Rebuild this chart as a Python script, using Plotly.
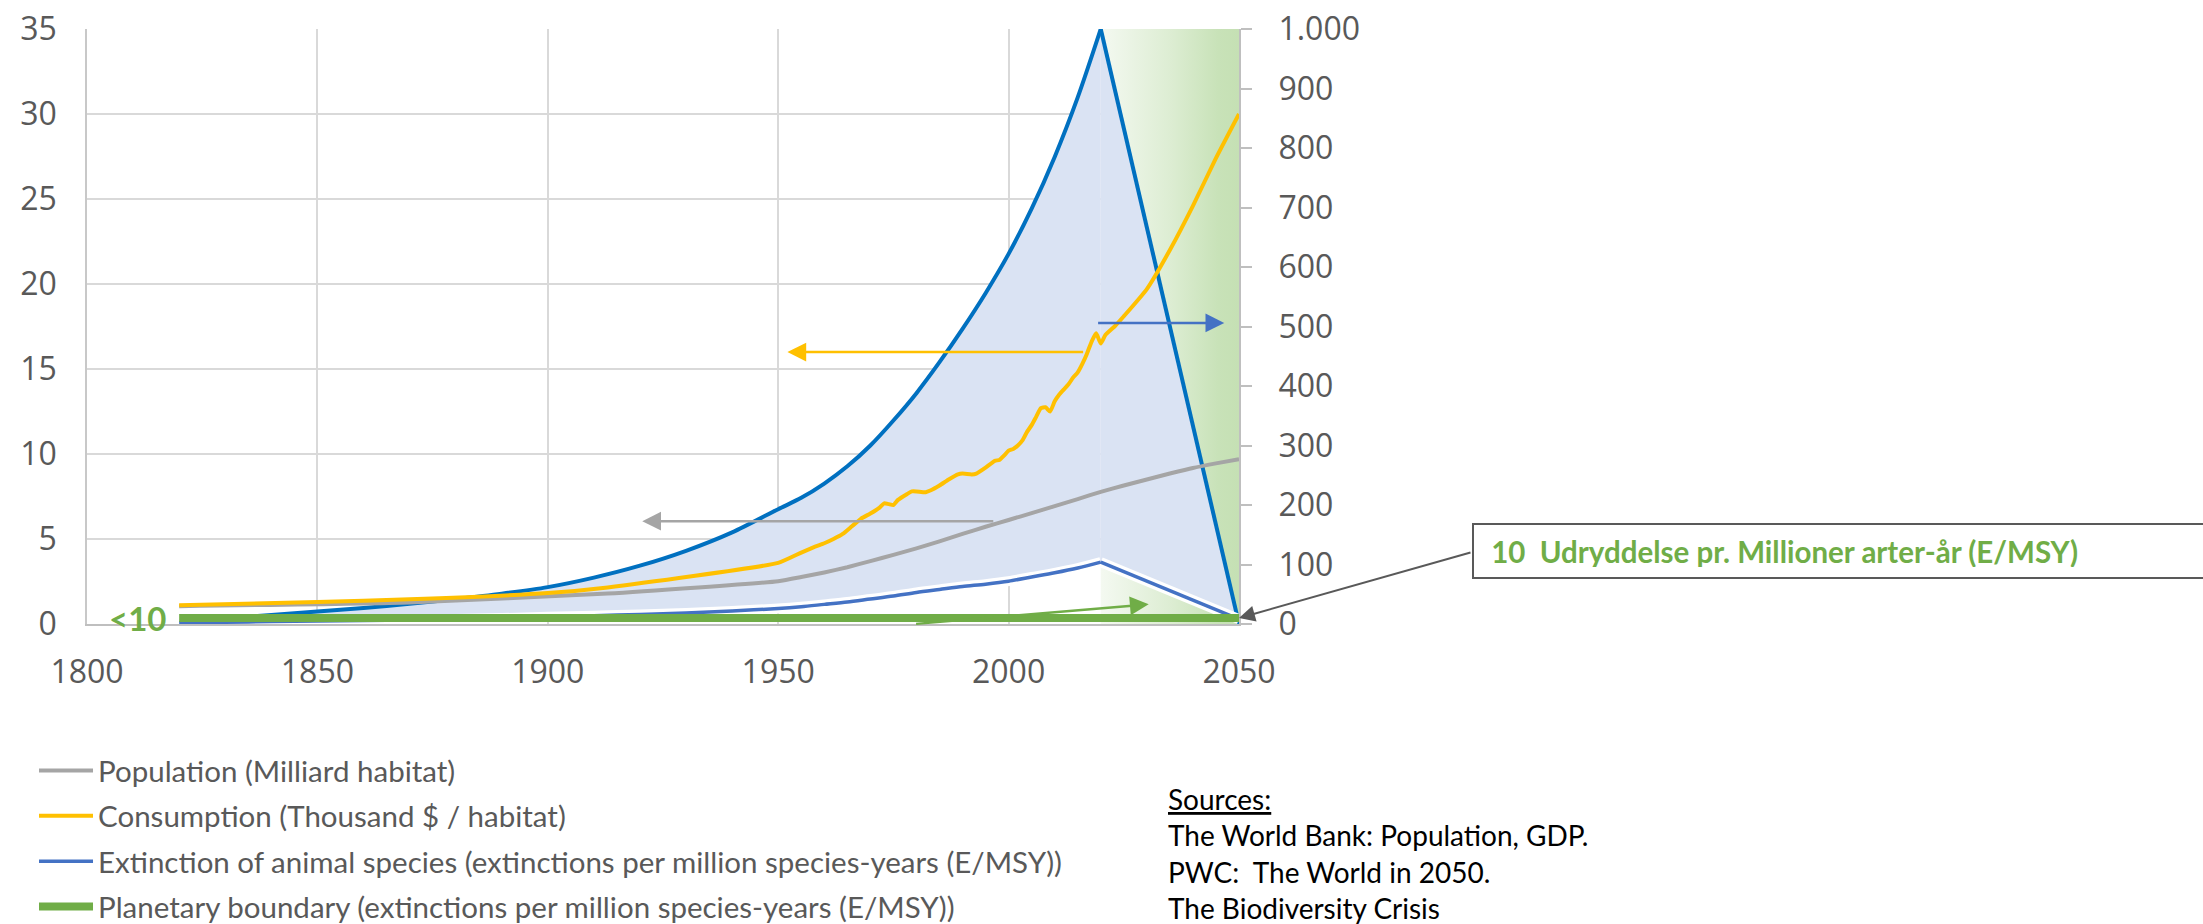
import plotly.graph_objects as go

# ---------------- data ----------------
# Population (billions) and consumption (thousand $ per inhabitant), left axis
pop_years = [1820, 1870, 1913, 1950, 1955, 1960, 1965, 1970, 1975, 1980, 1985, 1990,
             1995, 2000, 2005, 2010, 2015, 2020, 2025, 2030, 2035, 2040, 2045, 2050]
population = [1.05, 1.27, 1.79, 2.52, 2.76, 3.03, 3.34, 3.70, 4.07, 4.45, 4.86, 5.30,
              5.72, 6.12, 6.52, 6.93, 7.35, 7.77, 8.15, 8.50, 8.85, 9.18, 9.45, 9.70]

cons_years = [1820, 1850, 1870, 1900, 1913, 1950, 1955, 1958, 1960, 1962, 1964, 1966,
              1968, 1970, 1972, 1973, 1974, 1975, 1976, 1978, 1979, 1980, 1982, 1983,
              1985, 1987, 1989, 1990, 1992, 1993, 1995, 1997, 1998, 1999, 2000, 2001,
              2002, 2003, 2004, 2005, 2006, 2007, 2008, 2009, 2010, 2011, 2012, 2013,
              2014, 2015, 2016, 2017, 2018, 2019, 2020, 2021, 2023, 2025, 2030, 2035,
              2040, 2045, 2050]
consumption = [1.10, 1.30, 1.45, 1.82, 2.15, 3.60, 4.20, 4.55, 4.75, 5.00, 5.30, 5.75,
               6.20, 6.50, 6.85, 7.10, 7.05, 7.00, 7.30, 7.65, 7.80, 7.80, 7.75, 7.85,
               8.15, 8.50, 8.80, 8.85, 8.80, 8.85, 9.20, 9.60, 9.65, 9.90, 10.20, 10.30,
               10.50, 10.80, 11.30, 11.70, 12.20, 12.70, 12.75, 12.50, 13.10, 13.50, 13.80, 14.10,
               14.50, 14.80, 15.30, 15.90, 16.60, 17.10, 16.50, 17.00, 17.50, 18.10, 19.70, 22.00,
               24.60, 27.40, 30.00]

# Extinction rate (E/MSY), right axis: upper and lower estimate
ext_years = [1820, 1830, 1840, 1850, 1860, 1870, 1880, 1890, 1900, 1910, 1920, 1930,
             1940, 1950, 1955, 1960, 1965, 1970, 1975, 1980, 1985, 1990, 1995, 2000,
             2005, 2010, 2015, 2020, 2050]
ext_upper = [5, 10, 15, 21, 27, 34, 42, 51, 62, 78, 98, 123,
             154, 193, 212, 236, 265, 300, 342, 388, 440, 496, 556, 622,
             698, 785, 885, 1000, 0]
ext_lower = [2, 3, 4, 5, 6, 7, 8.5, 10, 12, 14, 16, 18.5,
             22, 26, 29, 33, 37, 42, 47, 53, 58, 63, 67, 72,
             79, 86, 94, 104, 8]

# Planetary boundary (E/MSY)
boundary_years = [1820, 2050]
boundary_value = 10

# Projection period
projection = [2020, 2050]

# Axes
x_ticks = [1800, 1850, 1900, 1950, 2000, 2050]
left_ticks = [0, 5, 10, 15, 20, 25, 30, 35]
right_ticks = [0, 100, 200, 300, 400, 500, 600, 700, 800, 900, 1000]
right_labels = ["0", "100", "200", "300", "400", "500", "600", "700", "800", "900", "1.000"]
LEFT_MAX = 35
RIGHT_MAX = 1000

legend_names = [
    "Population (Milliard habitat)",
    "Consumption (Thousand $ / habitat)",
    "Extinction of animal species (extinctions per million species-years (E/MSY))",
    "Planetary boundary (extinctions per million species-years (E/MSY))",
]

sources = ["Sources:", "The World Bank: Population, GDP.", "PWC:\u00a0 The World in 2050.",
           "The Biodiversity Crisis"]
boundary_note = "Udryddelse pr. Millioner arter-år (E/MSY)"

# ---------------- styles ----------------
GRAY = "#A5A5A5"
YELLOW = "#FFC000"
BLUE = "#4472C4"
DARK_BLUE = "#0070C0"
GREEN = "#70AD47"
FILL_BLUE = "#DAE3F3"
AXIS_TXT = "#595959"
GRID = "#D9D9D9"

# right-axis values expressed in left-axis units (both axes share the plot height)
k = LEFT_MAX / RIGHT_MAX
upper_left = [v * k for v in ext_upper]
lower_left = [v * k for v in ext_lower]

# historic part is smoothed, the projection part is a straight segment
p = ext_years.index(projection[0])
hist = slice(0, p + 1)
proj = slice(p, len(ext_years))

fig = go.Figure()

# projection band with a horizontal green gradient
fig.add_trace(go.Scatter(
    x=[projection[0], projection[1], projection[1], projection[0], projection[0]],
    y=[0, 0, LEFT_MAX, LEFT_MAX, 0],
    mode="lines", line=dict(width=0), fill="toself",
    fillgradient=dict(type="horizontal",
                      colorscale=[[0, "#F4F9F1"], [0.5, "#DDEDD3"], [0.85, "#C8E2B8"], [1, "#C5E0B4"]]),
    hoverinfo="skip", showlegend=False))

# band between lower and upper extinction estimates
for part, shape in ((hist, "spline"), (proj, "linear")):
    fig.add_trace(go.Scatter(x=ext_years[part], y=lower_left[part], mode="lines",
                             line=dict(width=0, shape=shape, smoothing=0.8),
                             hoverinfo="skip", showlegend=False))
    fig.add_trace(go.Scatter(x=ext_years[part], y=upper_left[part], mode="lines", fill="tonexty",
                             fillcolor=FILL_BLUE, line=dict(width=0, shape=shape, smoothing=0.8),
                             hoverinfo="skip", showlegend=False))

# upper extinction estimate
for part, shape in ((hist, "spline"), (proj, "linear")):
    fig.add_trace(go.Scatter(x=ext_years[part], y=upper_left[part], mode="lines",
                             line=dict(color=DARK_BLUE, width=4, shape=shape, smoothing=0.8),
                             showlegend=False))

# lower extinction line with a thin white edge
for part, shape in ((hist, "spline"), (proj, "linear")):
    fig.add_trace(go.Scatter(x=ext_years[part], y=lower_left[part], mode="lines",
                             line=dict(color="white", width=10, shape=shape, smoothing=0.8),
                             hoverinfo="skip", showlegend=False))
for part, shape, show in ((hist, "spline", True), (proj, "linear", False)):
    fig.add_trace(go.Scatter(x=ext_years[part], y=lower_left[part], mode="lines",
                             name=legend_names[2], showlegend=show,
                             line=dict(color=BLUE, width=3.5, shape=shape, smoothing=0.8),
                             legendrank=3, legendgroup="c"))

fig.add_trace(go.Scatter(x=pop_years, y=population, mode="lines", name=legend_names[0],
                         line=dict(color=GRAY, width=4, shape="spline", smoothing=0.5),
                         legendrank=1, legendgroup="a"))
fig.add_trace(go.Scatter(x=cons_years, y=consumption, mode="lines", name=legend_names[1],
                         line=dict(color=YELLOW, width=4, shape="spline", smoothing=0.5),
                         legendrank=2, legendgroup="b"))

fig.add_trace(go.Scatter(x=boundary_years, y=[boundary_value] * len(boundary_years),
                         mode="lines", name=legend_names[3], yaxis="y2",
                         line=dict(color=GREEN, width=8), legendrank=4, legendgroup="d"))

tick_font = dict(family="Open Sans", size=32, color=AXIS_TXT)

fig.update_layout(
    width=2203, height=924,
    margin=dict(l=87, r=964, t=29, b=300, autoexpand=False),
    paper_bgcolor="white", plot_bgcolor="white",
    xaxis=dict(range=[1800, 2050], tickvals=x_ticks, showgrid=True, gridcolor=GRID, gridwidth=1.5,
               showline=True, linecolor="#BFBFBF", linewidth=2, zeroline=False,
               ticks="", tickfont=tick_font, ticklabelstandoff=19),
    yaxis=dict(range=[0, LEFT_MAX], tickvals=left_ticks, showgrid=True, gridcolor=GRID, gridwidth=1.5,
               showline=True, linecolor="#C8C8C8", linewidth=1.5, zeroline=False,
               ticks="", tickfont=tick_font, ticklabelstandoff=22),
    yaxis2=dict(range=[0, RIGHT_MAX], overlaying="y", side="right", tickvals=right_ticks,
                ticktext=right_labels, showgrid=False, zeroline=False,
                showline=True, linecolor="#BFBFBF", linewidth=2,
                ticks="outside", ticklen=11, tickwidth=2, tickcolor="#BFBFBF",
                tickfont=tick_font, ticklabelstandoff=20),
    legend=dict(x=-0.046, xanchor="left", y=-0.203, yanchor="top", orientation="v",
                font=dict(family="Lato", size=29.5, color=AXIS_TXT), tracegroupgap=4,
                itemwidth=54, bgcolor="rgba(0,0,0,0)"),
    showlegend=True,
)

arrow_common = dict(showarrow=True, arrowhead=2, arrowsize=1.5, arrowwidth=2.5, text="",
                    standoff=0, startstandoff=0)
# population -> left axis
fig.add_annotation(x=1920.5, y=6.05, ax=1997, ay=6.05, xref="x", yref="y", axref="x", ayref="y",
                   arrowcolor=GRAY, **arrow_common)
# consumption -> left axis
fig.add_annotation(x=1952, y=16, ax=2016.5, ay=16, xref="x", yref="y", axref="x", ayref="y",
                   arrowcolor=YELLOW, **arrow_common)
# extinction -> right axis
fig.add_annotation(x=2046.8, y=506, ax=2019.1, ay=506, xref="x", yref="y2", axref="x", ayref="y2",
                   arrowcolor=BLUE, **arrow_common)
# boundary arrow
fig.add_annotation(x=2030.4, y=33, ax=1979.6, ay=0, xref="x", yref="y2", axref="x", ayref="y2",
                   arrowcolor=GREEN, **arrow_common)

# boundary label on the left
fig.add_annotation(x=1817.5, y=boundary_value, xref="x", yref="y2", text=f"<b>&lt;{boundary_value}</b>",
                   showarrow=False, xanchor="right", yanchor="middle",
                   font=dict(family="Lato", size=33, color=GREEN))

# callout box for the boundary value
fig.add_annotation(x=1.2023, y=0.1227, xref="paper", yref="paper", xanchor="left", yanchor="middle",
                   text=f"<b>\u00a0{boundary_value}\u00a0 {boundary_note}</b>", showarrow=False,
                   align="left", width=820, height=32, borderpad=10,
                   bordercolor="#595959", borderwidth=2, bgcolor="white",
                   font=dict(family="Lato", size=29.5, color=GREEN))
fig.add_annotation(x=2050, y=boundary_value, xref="x", yref="y2", ax=233, ay=-66,
                   showarrow=True, arrowhead=2, arrowsize=1.6, arrowwidth=2, arrowcolor="#595959",
                   text="", standoff=0)

# sources
fig.add_annotation(x=0.9366, y=-0.262, xref="paper", yref="paper", xanchor="left", yanchor="top",
                   text="<u>" + sources[0] + "</u><br>" + "<br>".join(sources[1:]),
                   showarrow=False, align="left",
                   font=dict(family="Lato", size=28, color="black"))

fig.write_html("out.html")
